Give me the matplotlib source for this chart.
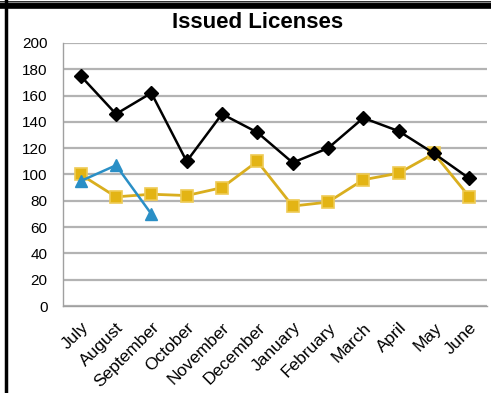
import matplotlib
matplotlib.use("Agg")
import matplotlib.pyplot as plt
from matplotlib.lines import Line2D

months = ["July", "August", "September", "October", "November", "December",
          "January", "February", "March", "April", "May", "June"]
prior_year = [175, 146, 162, 110, 146, 132, 109, 120, 143, 133, 116, 97]
current_avg = [100, 83, 85, 84, 90, 110, 76, 79, 96, 101, 116, 83]
current_year = [95, 107, 70]
y_ticks = list(range(0, 201, 20))

plt.rcParams["font.family"] = ["Liberation Sans", "DejaVu Sans"]

fig = plt.figure(figsize=(4.91, 3.93), dpi=100)
ax = fig.add_axes([63 / 491, 87 / 393, 424 / 491, 263 / 393])

x = list(range(len(months)))
ax.plot(x, prior_year, color="black", lw=1.8, marker="D", ms=7,
        mfc="black", mec="black", zorder=4)
ax.plot(x, current_avg, color="#D9AE1E", lw=2.0, marker="s", ms=8.5,
        mfc="#E3B414", mec="#EFCB55", mew=1.2, zorder=3)
ax.plot(x[:len(current_year)], current_year, color="#2A8FC6", lw=1.8,
        marker="^", ms=9, mfc="#2A8FC6", mec="#2A8FC6", zorder=5)

ax.set_xlim(-0.5, len(months) - 0.5)
ax.set_ylim(0, 200)
ax.set_yticks(y_ticks)
ax.set_xticks(x)
ax.set_xticklabels(months, rotation=45, ha="right", rotation_mode="anchor",
                   fontsize=12.5)
ax.tick_params(axis="y", labelsize=11, length=0, pad=11)
ax.tick_params(axis="x", length=0, pad=10)
ax.yaxis.grid(True, color="#B3B3B3", lw=1.6)
ax.set_axisbelow(True)
for side in ("top", "right"):
    ax.spines[side].set_visible(False)
for side in ("left", "bottom"):
    ax.spines[side].set_color("#A0A0A0")
    ax.spines[side].set_linewidth(1.0)

fig.text(258 / 491, 1 - 22 / 393, "Issued Licenses", ha="center",
         va="center", fontsize=16, fontweight="bold")

# frame strokes along the top and left edge
fig.add_artist(Line2D([0, 1], [1 - 5 / 393] * 2, color="black", lw=5.5,
                      transform=fig.transFigure))
fig.add_artist(Line2D([0, 1], [1 - 1.5 / 393] * 2, color="#888888", lw=0.8,
                      transform=fig.transFigure))
fig.add_artist(Line2D([5.5 / 491] * 2, [0, 1], color="black", lw=2.5,
                      transform=fig.transFigure))

fig.savefig("out.png", dpi=100)
